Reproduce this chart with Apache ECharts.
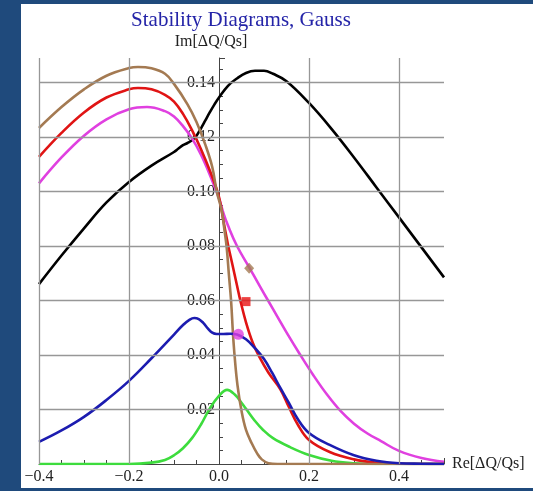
<!DOCTYPE html>
<html><head><meta charset="utf-8">
<script src="https://cdn.jsdelivr.net/npm/echarts@6.0.0/dist/echarts.min.js"></script>
<style>
html,body{margin:0;padding:0;background:#1f4a7c;width:533px;height:491px;overflow:hidden}
#panel{position:absolute;left:21px;top:4px;width:512px;height:484px;background:#fff}
#chart{position:absolute;left:0;top:0;width:533px;height:491px}
</style></head><body><div id="panel"></div><div id="chart"></div>
<script>
// ---- data ----
var titleText = 'Stability Diagrams, Gauss';
var xName = 'Re[ΔQ/Qs]';
var yName = 'Im[ΔQ/Qs]';
var xTicks = [-0.4, -0.2, 0.0, 0.2, 0.4];
var yTicks = [0.02, 0.04, 0.06, 0.08, 0.10, 0.12, 0.14];
var xGridVals = [-0.4, -0.2, 0.2, 0.4];

var blackX = [-0.4,-0.35,-0.3,-0.25,-0.2,-0.15,-0.1,-0.09,-0.08,-0.07,-0.06,-0.05,-0.04,-0.03,-0.02,-0.01,0,0.02,0.04,0.06,0.08,0.1,0.12,0.15,0.2,0.25,0.3,0.35,0.4,0.45,0.5];
var blackY = [0.066,0.0765,0.0865,0.096,0.1035,0.1095,0.1145,0.1158,0.117,0.1178,0.1188,0.1205,0.1232,0.1262,0.1292,0.132,0.1345,0.1388,0.1415,0.1435,0.1443,0.1443,0.1432,0.1405,0.1325,0.123,0.1125,0.1015,0.0905,0.0795,0.0685];

var magentaX = [-0.4,-0.35,-0.3,-0.25,-0.2,-0.16,-0.12,-0.1,-0.08,-0.06,-0.04,-0.02,0,0.01,0.02,0.04,0.067,0.09,0.109,0.13,0.15,0.18,0.21,0.24,0.27,0.3,0.33,0.36,0.4,0.45,0.5];
var magentaY = [0.103,0.1125,0.1205,0.1265,0.1302,0.131,0.1295,0.1275,0.124,0.1195,0.1135,0.106,0.0975,0.092,0.0875,0.08,0.0722,0.0655,0.06,0.054,0.0483,0.0402,0.0325,0.0255,0.0195,0.0148,0.0112,0.0084,0.0048,0.0022,0.0008];

var redX = [-0.4,-0.35,-0.3,-0.25,-0.2,-0.18,-0.15,-0.12,-0.1,-0.08,-0.06,-0.04,-0.02,0,0.01,0.02,0.03,0.04,0.047,0.06,0.075,0.09,0.11,0.136,0.155,0.175,0.2,0.246,0.3,0.35,0.4,0.45,0.5];
var redY = [0.1127,0.1215,0.129,0.1345,0.1375,0.138,0.1375,0.1355,0.133,0.1285,0.1225,0.1155,0.1075,0.098,0.089,0.0805,0.073,0.0655,0.0603,0.052,0.0445,0.0392,0.0335,0.0275,0.021,0.0145,0.0088,0.0044,0.0017,0.0005,0.0001,0,0];

var brownX = [-0.4,-0.35,-0.3,-0.25,-0.2,-0.18,-0.15,-0.12,-0.1,-0.07,-0.05,-0.03,-0.015,-0.005,0.006,0.012,0.017,0.022,0.027,0.031,0.035,0.041,0.05,0.06,0.073,0.085,0.095,0.11,0.13,0.2,0.3,0.4,0.5];
var brownY = [0.1233,0.131,0.1375,0.1425,0.1453,0.1457,0.1452,0.1432,0.1395,0.132,0.1255,0.117,0.109,0.1,0.093,0.086,0.0796,0.0695,0.0595,0.048,0.039,0.029,0.0195,0.0125,0.0075,0.0038,0.0017,0.0003,0,0,0,0,0];

var blueX = [-0.4,-0.35,-0.3,-0.25,-0.2,-0.15,-0.1,-0.08,-0.065,-0.055,-0.045,-0.035,-0.025,-0.015,-0.005,0.01,0.025,0.04,0.06,0.08,0.1,0.118,0.136,0.155,0.175,0.2,0.246,0.3,0.35,0.4,0.45,0.5];
var blueY = [0.0081,0.0123,0.0173,0.0235,0.0305,0.0388,0.0475,0.051,0.053,0.0536,0.0532,0.0518,0.0498,0.0482,0.0477,0.0477,0.0478,0.0475,0.0458,0.0425,0.0385,0.0335,0.028,0.0225,0.0165,0.0114,0.007,0.0032,0.0012,0.0003,0.0001,0];

var greenX = [-0.4,-0.2,-0.15,-0.12,-0.1,-0.08,-0.06,-0.04,-0.02,0,0.018,0.035,0.05,0.062,0.08,0.098,0.12,0.158,0.2,0.25,0.3,0.35,0.5];
var greenY = [0,0,0.0005,0.0015,0.0032,0.0058,0.0095,0.0145,0.0205,0.025,0.0272,0.0255,0.0225,0.0198,0.0158,0.0125,0.0095,0.0062,0.0033,0.0012,0.0003,0,0];

var brownMark = [0.067, 0.0718];
var redMark = [0.06, 0.0596];
var magentaMark = [0.043, 0.0476];

// ---- chart ----
function zip(xs, ys){ return xs.map(function(x,i){ return [x, ys[i]]; }); }
var serif = '"Liberation Serif", "DejaVu Serif", serif';
var gridStyle = {color:'#979797', width:1.3, type:'solid'};
function curve(name, xs, ys, color){
  return {name:name, type:'line', data:zip(xs,ys), showSymbol:false, symbol:'none',
    smooth:0.4, lineStyle:{color:color, width:2.6}, z:3, silent:true, clip:true};
}
var chart = echarts.init(document.getElementById('chart'), null, {renderer:'canvas'});
chart.setOption({
  animation:false,
  backgroundColor:'transparent',
  title:{text:titleText, left:236, textAlign:'center', top:5,
    textStyle:{fontFamily:serif, fontSize:21, fontWeight:'normal', color:'#2424a8'}},
  grid:{left:39, right:89, top:58, bottom:27, containLabel:false},
  xAxis:{type:'value', min:-0.4, max:0.5, interval:0.2,
    name:xName, nameLocation:'end', nameGap:8,
    nameTextStyle:{fontFamily:serif, fontSize:16, color:'#222'},
    axisLine:{onZero:false, lineStyle:{color:'#444', width:1}},
    axisTick:{inside:true, length:6, lineStyle:{color:'#444'}},
    minorTick:{show:true, splitNumber:4, length:4, lineStyle:{color:'#444'}},
    splitLine:{show:false},
    axisLabel:{fontFamily:serif, fontSize:16, color:'#222', margin:5, showMaxLabel:false,
      formatter:function(v){ var ok = xTicks.some(function(t){return Math.abs(t-v)<1e-9;}); if(!ok) return ''; return (v<0?'\u2212':'')+Math.abs(v).toFixed(1); }}
  },
  yAxis:{type:'value', min:0, max:0.149, interval:0.02, position:'left', offset:-180,
    name:yName, nameLocation:'end', nameGap:8,
    nameTextStyle:{fontFamily:serif, fontSize:16, color:'#222', padding:[0,16,0,0]},
    axisLine:{onZero:false, lineStyle:{color:'#444', width:1}},
    axisTick:{inside:true, length:6, lineStyle:{color:'#444'}},
    minorTick:{show:true, splitNumber:4, length:4, lineStyle:{color:'#444'}},
    splitLine:{show:false},
    axisLabel:{fontFamily:serif, fontSize:16, color:'#222', margin:4,
      formatter:function(v){ var ok = yTicks.some(function(t){return Math.abs(t-v)<1e-9;}); return ok ? v.toFixed(2) : ''; }}
  },
  series:[
    {name:'grid', type:'line', data:[[-0.4,0]], showSymbol:false, lineStyle:{opacity:0}, z:1, silent:true,
      markLine:{silent:true, symbol:['none','none'], label:{show:false}, lineStyle:gridStyle, animation:false,
        data: yTicks.map(function(v){return {yAxis:v};}).concat(xGridVals.map(function(v){return {xAxis:v};}))}},
    curve('green', greenX, greenY, '#3ddc3d'),
    curve('black', blackX, blackY, '#000000'),
    curve('magenta', magentaX, magentaY, '#e040e0'),
    curve('red', redX, redY, '#e01414'),
    curve('brown', brownX, brownY, '#a47a52'),
    curve('blue', blueX, blueY, '#1c1cb0'),
    {type:'scatter', data:[brownMark], symbol:'diamond', symbolSize:[10,11], itemStyle:{color:'#a47a52'}, z:5, silent:true},
    {type:'scatter', data:[redMark], symbol:'rect', symbolSize:9, itemStyle:{color:'#e81414'}, z:5, silent:true},
    {type:'scatter', data:[magentaMark], symbol:'circle', symbolSize:11, itemStyle:{color:'#e040e0'}, z:5, silent:true}
  ]
});
</script></body></html>
